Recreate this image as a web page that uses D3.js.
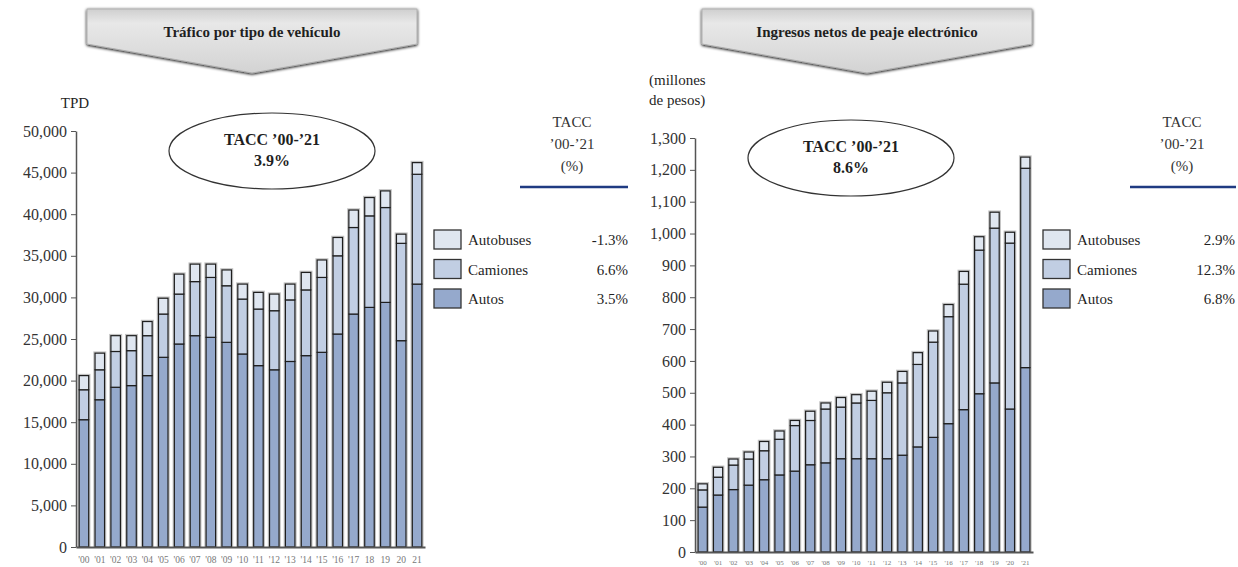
<!DOCTYPE html>
<html>
<head>
<meta charset="utf-8">
<script src="https://cdn.jsdelivr.net/npm/d3@7"></script>
<style>
    body { margin: 0; background: #fff; }
    svg text { font-family: "Liberation Serif", "Times New Roman", Tinos, "Noto Serif", "DejaVu Serif", FreeSerif, serif; }
</style>
</head>
<body>
<div id="chart-container"></div>
<script>
"use strict";

const SERIF = "'Liberation Serif', 'Times New Roman', Tinos, 'Noto Serif', 'DejaVu Serif', FreeSerif, serif";

// years on the x axis
const traficoYears = ["'00", "'01", "'02", "'03", "'04", "'05", "'06", "'07", "'08", "'09", "'10",
    "'11", "'12", "'13", "'14", "'15", "'16", "'17", "18", "19", "20", "21"];
const ingresosYears = ["'00", "'01", "'02", "'03", "'04", "'05", "'06", "'07", "'08", "'09", "'10",
    "'11", "'12", "'13", "'14", "'15", "'16", "'17", "'18", "'19", "'20", "'21"];

// Tráfico (TPD)
const traficoAutos = [15300, 17700, 19200, 19400, 20600, 22800, 24400, 25400, 25200, 24600, 23200,
    21800, 21300, 22300, 23000, 23400, 25600, 28000, 28800, 29400, 24800, 31600];
const traficoCamiones = [3600, 3600, 4300, 4200, 4800, 5200, 6000, 6500, 7200, 6800, 6600,
    6800, 7100, 7400, 7900, 9000, 9400, 10400, 11000, 11400, 11700, 13200];
const traficoAutobuses = [1700, 2000, 1900, 1800, 1700, 1900, 2400, 2100, 1600, 1900, 1800,
    2000, 2000, 1900, 2100, 2100, 2200, 2100, 2200, 2000, 1100, 1400];

// Ingresos (millones de pesos)
const ingresosAutos = [141, 179, 196, 210, 227, 242, 254, 274, 280, 293, 293,
    293, 293, 304, 330, 360, 403, 447, 497, 531, 449, 579];
const ingresosCamiones = [54, 56, 77, 82, 91, 112, 143, 139, 169, 162, 175,
    183, 207, 227, 259, 299, 336, 394, 451, 486, 521, 626];
const ingresosAutobuses = [19, 31, 19, 22, 29, 26, 16, 29, 19, 30, 26,
    29, 33, 36, 37, 35, 38, 40, 42, 50, 34, 35];

const seriesNames = ["Autobuses", "Camiones", "Autos"];
const traficoTacc = ["-1.3%", "6.6%", "3.5%"];
const ingresosTacc = ["2.9%", "12.3%", "6.8%"];
const traficoTotalTacc = "3.9%";
const ingresosTotalTacc = "8.6%";

const traficoTicks = d3.range(0, 50001, 5000);
const ingresosTicks = d3.range(0, 1301, 100);

const colors = {Autos: "#95a9cc", Camiones: "#c1cee3", Autobuses: "#dfe6f0"};

const svg = d3.select("#chart-container").append("svg")
    .attr("width", 1238)
    .attr("height", 567);

const defs = svg.append("defs");
const grad = defs.append("linearGradient")
    .attr("id", "banner-grad")
    .attr("x1", 0).attr("y1", 0).attr("x2", 0).attr("y2", 1);
grad.append("stop").attr("offset", "0%").attr("stop-color", "#cfcfcf");
grad.append("stop").attr("offset", "22%").attr("stop-color", "#e8e8e8");
grad.append("stop").attr("offset", "100%").attr("stop-color", "#d3d3d3");

const shadow = defs.append("filter").attr("id", "soft").attr("x", "-10%").attr("y", "-10%")
    .attr("width", "120%").attr("height", "140%");
shadow.append("feGaussianBlur").attr("in", "SourceAlpha").attr("stdDeviation", 1.5);
shadow.append("feOffset").attr("dx", 0).attr("dy", 1).attr("result", "blur");
const merge = shadow.append("feMerge");
merge.append("feMergeNode").attr("in", "blur");
merge.append("feMergeNode").attr("in", "SourceGraphic");

function label(g, x, y, t, size, anchor, bold) {
    return g.append("text")
        .attr("x", x).attr("y", y)
        .attr("text-anchor", anchor || "start")
        .attr("font-family", SERIF)
        .attr("font-size", size)
        .attr("font-weight", bold ? "bold" : "normal")
        .attr("fill", "#1f1f1f")
        .text(t);
}

function drawPanel(cfg) {
    const g = svg.append("g");

    // banner with arrow
    const b = cfg.banner;
    g.append("path")
        .attr("d", `M${b.x0},${b.y0}H${b.x1}V${b.y1}L${(b.x0 + b.x1) / 2},${b.tip}L${b.x0},${b.y1}Z`)
        .attr("fill", "url(#banner-grad)")
        .attr("stroke", "#b0b0b0")
        .attr("stroke-width", 1)
        .attr("filter", "url(#soft)");
    label(g, (b.x0 + b.x1) / 2, b.y0 + 28, cfg.title, 15, "middle", true);

    const x = d3.scaleBand()
        .domain(cfg.years)
        .range(cfg.xRange)
        .paddingInner(0.4)
        .paddingOuter(0.2);

    const y = d3.scaleLinear()
        .domain([0, cfg.ticks[cfg.ticks.length - 1]])
        .range(cfg.yRange);

    const rows = cfg.years.map((yr, i) => ({
        year: yr,
        Autos: cfg.autos[i],
        Camiones: cfg.camiones[i],
        Autobuses: cfg.autobuses[i]
    }));
    const stacked = d3.stack().keys(["Autos", "Camiones", "Autobuses"])(rows);

    // soft grey halo behind each bar
    g.append("g")
        .selectAll("rect")
        .data(rows)
        .join("rect")
        .attr("x", (d) => x(d.year) - 1)
        .attr("width", x.bandwidth() + 2)
        .attr("y", (d) => y(d.Autos + d.Camiones + d.Autobuses) - 1)
        .attr("height", (d) => y(0) - y(d.Autos + d.Camiones + d.Autobuses) + 1)
        .attr("fill", "none")
        .attr("stroke", "#9a9a9a")
        .attr("stroke-width", 1.5)
        .attr("opacity", 0.6);

    g.selectAll("g.layer")
        .data(stacked)
        .join("g")
        .attr("class", "layer")
        .attr("fill", (d) => colors[d.key])
        .selectAll("rect")
        .data((d) => d)
        .join("rect")
        .attr("x", (d) => x(d.data.year))
        .attr("width", x.bandwidth())
        .attr("y", (d) => y(d[1]))
        .attr("height", (d) => y(d[0]) - y(d[1]))
        .attr("stroke", "#1e1e1e")
        .attr("stroke-width", 1.2);

    // y axis
    const yAxis = g.append("g")
        .attr("transform", `translate(${cfg.xRange[0]},0)`)
        .call(d3.axisLeft(y).tickValues(cfg.ticks).tickFormat(d3.format(",")).tickSize(5).tickSizeOuter(0).tickPadding(4));
    yAxis.attr("font-family", null);
    yAxis.select(".domain").attr("stroke", "#555").attr("stroke-width", 1.5);
    yAxis.selectAll(".tick line").attr("stroke", "#555");
    yAxis.selectAll(".tick text")
        .attr("fill", "#333")
        .attr("font-family", SERIF)
        .attr("font-size", 16);

    // x axis
    const xAxis = g.append("g")
        .attr("transform", `translate(0,${cfg.yRange[0]})`)
        .call(d3.axisBottom(x).tickSize(0).tickSizeOuter(0).tickPadding(cfg.xPad));
    xAxis.select(".domain").attr("stroke", "#555").attr("stroke-width", 2);
    xAxis.selectAll(".tick text")
        .attr("fill", "#777")
        .attr("font-family", "'Liberation Sans', Arial, sans-serif")
        .attr("font-size", cfg.xFont);

    // unit label
    cfg.unit.forEach((t, i) => {
        label(g, cfg.unitPos[0], cfg.unitPos[1] + i * 20, t, 15, cfg.unitAnchor, false);
    });

    // ellipse callout
    const e = cfg.ellipse;
    g.append("ellipse")
        .attr("cx", e.cx).attr("cy", e.cy).attr("rx", e.rx).attr("ry", e.ry)
        .attr("fill", "#fff")
        .attr("stroke", "#333")
        .attr("stroke-width", 1.2);
    label(g, e.cx, e.cy - 6, "TACC \u201900-\u201921", 16, "middle", true);
    label(g, e.cx, e.cy + 15, cfg.totalTacc, 16, "middle", true);

    // TACC column header
    const h = cfg.header;
    ["TACC", "\u201900-\u201921", "(%)"].forEach((t, i) => {
        label(g, h.x, h.y + i * 22, t, 15, "middle", false).attr("fill", "#333");
    });
    g.append("line")
        .attr("x1", h.x0).attr("x2", h.x1)
        .attr("y1", h.y + 60).attr("y2", h.y + 60)
        .attr("stroke", "#1f3b82")
        .attr("stroke-width", 2.5);

    // legend
    const lg = cfg.legend;
    seriesNames.forEach((name, i) => {
        const yy = lg.y + i * 29.5;
        g.append("rect")
            .attr("x", lg.x).attr("y", yy)
            .attr("width", 27).attr("height", 19)
            .attr("fill", colors[name])
            .attr("stroke", "#333")
            .attr("stroke-width", 1.3);
        label(g, lg.x + 34, yy + 15, name, 15, "start", false);
        label(g, lg.right, yy + 15, cfg.tacc[i], 15, "end", false);
    });
}

drawPanel({
    title: "Tráfico por tipo de vehículo",
    banner: {x0: 87, x1: 417, y0: 9, y1: 44, tip: 73},
    years: traficoYears,
    autos: traficoAutos,
    camiones: traficoCamiones,
    autobuses: traficoAutobuses,
    ticks: traficoTicks,
    xRange: [76, 425],
    yRange: [547, 131],
    xPad: 9,
    xFont: 9.5,
    unit: ["TPD"],
    unitPos: [75, 108],
    unitAnchor: "middle",
    ellipse: {cx: 272, cy: 151, rx: 103, ry: 38},
    totalTacc: traficoTotalTacc,
    header: {x: 572, y: 127, x0: 520, x1: 628},
    legend: {x: 434, y: 230, right: 628},
    tacc: traficoTacc
});

drawPanel({
    title: "Ingresos netos de peaje electrónico",
    banner: {x0: 702, x1: 1032, y0: 9, y1: 44, tip: 73},
    years: ingresosYears,
    autos: ingresosAutos,
    camiones: ingresosCamiones,
    autobuses: ingresosAutobuses,
    ticks: ingresosTicks,
    xRange: [695, 1033],
    yRange: [552, 138],
    xPad: 8,
    xFont: 7,
    unit: ["(millones", "de pesos)"],
    unitPos: [649, 85],
    unitAnchor: "start",
    ellipse: {cx: 851, cy: 158, rx: 103, ry: 38},
    totalTacc: ingresosTotalTacc,
    header: {x: 1182, y: 127, x0: 1130, x1: 1236},
    legend: {x: 1043, y: 230, right: 1235},
    tacc: ingresosTacc
});
</script>
</body>
</html>
